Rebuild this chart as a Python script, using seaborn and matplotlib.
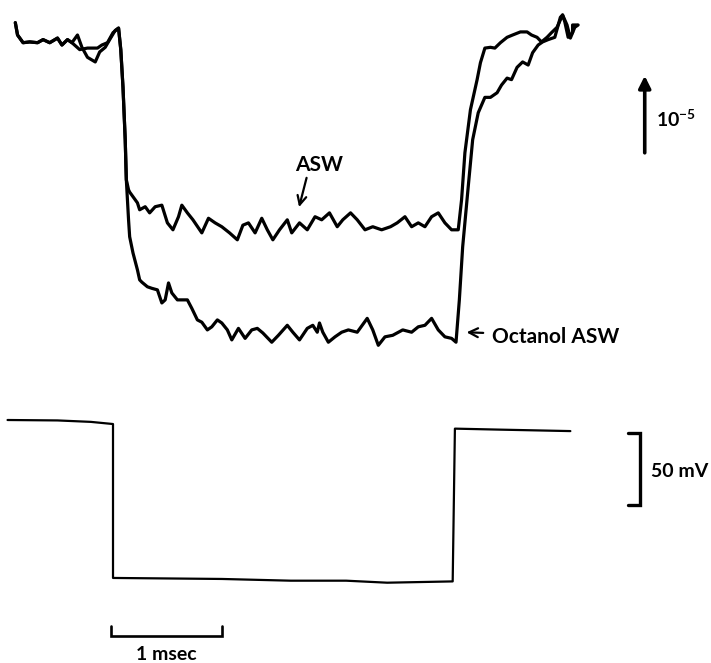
import pandas as pd
import matplotlib
matplotlib.use("Agg")
import matplotlib.pyplot as plt
import seaborn as sns

sns.set_theme(style="white")
plt.rcParams["font.family"] = ["Lato", "DejaVu Sans"]
plt.rcParams["mathtext.fontset"] = "custom"
plt.rcParams["mathtext.rm"] = "Lato:bold"
plt.rcParams["mathtext.default"] = "rm"

# time in msec (pulse onset = 0), signal in units of 10^-5
asw_time = [-0.88, -0.86, -0.81, -0.75, -0.68, -0.63, -0.57, -0.50, -0.46, -0.41,
            -0.37, -0.30, -0.23, -0.14, -0.10, -0.05, 0.00, 0.05, 0.07, 0.09,
            0.11, 0.12, 0.14, 0.15, 0.18, 0.22, 0.24, 0.29, 0.33, 0.38,
            0.44, 0.49, 0.54, 0.59, 0.62, 0.67, 0.72, 0.80, 0.86, 0.92,
            0.98, 1.05, 1.12, 1.17, 1.22, 1.28, 1.34, 1.39, 1.44, 1.50,
            1.57, 1.61, 1.68, 1.75, 1.82, 1.88, 1.95, 2.02, 2.07, 2.14,
            2.20, 2.27, 2.34, 2.42, 2.50, 2.56, 2.63, 2.69, 2.75, 2.81,
            2.87, 2.93, 2.99, 3.05, 3.11, 3.14, 3.17, 3.22, 3.28, 3.31,
            3.35, 3.40, 3.44, 3.49, 3.55, 3.60, 3.67, 3.73, 3.77, 3.82,
            3.86, 3.91, 3.95, 4.00, 4.05, 4.07, 4.10, 4.14, 4.14, 4.18]
asw_signal = [0.16, 0.00, -0.10, -0.09, -0.10, -0.06, -0.10, -0.04, -0.13, -0.06,
              -0.10, -0.19, -0.17, -0.17, -0.13, -0.10, 0.03, 0.09, -0.19, -0.68,
              -1.36, -1.88, -2.01, -2.04, -2.10, -2.18, -2.27, -2.23, -2.31, -2.23,
              -2.21, -2.44, -2.53, -2.36, -2.21, -2.31, -2.40, -2.57, -2.38, -2.44,
              -2.49, -2.57, -2.66, -2.47, -2.44, -2.57, -2.38, -2.53, -2.66, -2.53,
              -2.40, -2.57, -2.44, -2.53, -2.36, -2.40, -2.31, -2.49, -2.40, -2.31,
              -2.40, -2.53, -2.49, -2.53, -2.49, -2.44, -2.36, -2.49, -2.44, -2.49,
              -2.36, -2.31, -2.44, -2.53, -2.53, -2.14, -1.53, -0.97, -0.58, -0.36,
              -0.17, -0.16, -0.17, -0.10, -0.03, 0.00, 0.04, 0.04, 0.00, -0.03,
              -0.09, -0.03, 0.03, 0.10, 0.26, 0.17, -0.03, 0.03, 0.13, 0.13]

octanol_time = [-0.88, -0.86, -0.81, -0.75, -0.68, -0.63, -0.57, -0.50, -0.46, -0.41,
                -0.37, -0.32, -0.28, -0.23, -0.16, -0.12, -0.07, -0.03, 0.02, 0.05,
                0.07, 0.09, 0.11, 0.12, 0.13, 0.14, 0.15, 0.18, 0.22, 0.24,
                0.26, 0.31, 0.35, 0.40, 0.44, 0.47, 0.50, 0.53, 0.58, 0.67,
                0.71, 0.76, 0.80, 0.85, 0.89, 0.94, 0.98, 1.03, 1.07, 1.13,
                1.19, 1.25, 1.30, 1.35, 1.43, 1.49, 1.57, 1.62, 1.68, 1.75,
                1.80, 1.84, 1.86, 1.89, 1.94, 2.00, 2.06, 2.12, 2.20, 2.29,
                2.34, 2.39, 2.45, 2.52, 2.61, 2.69, 2.75, 2.81, 2.87, 2.93,
                2.99, 3.05, 3.09, 3.12, 3.15, 3.20, 3.24, 3.29, 3.35, 3.40,
                3.46, 3.50, 3.55, 3.59, 3.64, 3.69, 3.74, 3.78, 3.83, 3.87,
                3.92, 3.98, 4.03, 4.05, 4.09, 4.12, 4.16, 4.19]
octanol_signal = [0.16, 0.00, -0.10, -0.09, -0.10, -0.06, -0.10, -0.04, -0.13, -0.06,
                  -0.10, 0.00, -0.16, -0.29, -0.35, -0.22, -0.16, -0.06, 0.06, 0.09,
                  -0.19, -0.68, -1.36, -1.88, -2.14, -2.40, -2.62, -2.83, -3.05, -3.18,
                  -3.21, -3.27, -3.29, -3.31, -3.48, -3.44, -3.22, -3.35, -3.44, -3.44,
                  -3.55, -3.70, -3.73, -3.83, -3.79, -3.70, -3.74, -3.83, -3.96, -3.81,
                  -3.94, -3.83, -3.81, -3.87, -3.99, -3.90, -3.77, -3.86, -3.96, -3.81,
                  -3.77, -3.86, -3.74, -3.86, -3.99, -3.92, -3.86, -3.83, -3.86, -3.68,
                  -3.83, -4.03, -3.92, -3.90, -3.83, -3.86, -3.79, -3.77, -3.68, -3.83,
                  -3.92, -3.94, -3.99, -3.44, -2.75, -1.97, -1.36, -1.01, -0.81, -0.81,
                  -0.75, -0.65, -0.56, -0.58, -0.42, -0.35, -0.39, -0.23, -0.13, -0.09,
                  -0.06, -0.03, 0.23, 0.26, 0.13, -0.04, 0.10, 0.13]

# membrane potential step, mV relative to holding level
volt_time = [-0.95, -0.50, -0.20, 0.00, 0.00, 0.98, 1.60, 2.10, 2.47, 3.06, 3.08, 3.49, 4.12]
volt_mv = [2.8, 2.5, 1.5, 0.0, -106.9, -107.6, -108.8, -108.8, -110.2, -109.3, -3.2, -3.9, -4.9]

asw = pd.DataFrame({"t": asw_time, "g": asw_signal})
octanol = pd.DataFrame({"t": octanol_time, "g": octanol_signal})
volt = pd.DataFrame({"t": volt_time, "v": volt_mv})

fig = plt.figure(figsize=(7.11, 6.63), dpi=100)
ax_top = fig.add_axes([0, 0.4268, 1, 0.5732])
ax_bot = fig.add_axes([0, 0, 1, 0.4268])

for df in (asw, octanol):
    sns.lineplot(data=df, x="t", y="g", ax=ax_top, color="black", lw=2.3,
                 sort=False, estimator=None)
sns.lineplot(data=volt, x="t", y="v", ax=ax_bot, color="black", lw=1.6,
             sort=False, estimator=None)

for ax in (ax_top, ax_bot):
    ax.set_xlim(-1.018, 5.387)
    ax.set_axis_off()
ax_top.set_ylim(-4.481, 0.4545)
ax_bot.set_ylim(-165.97, 30.56)

txt = dict(color="black", fontweight="bold")
arrow = dict(arrowstyle="->", lw=1.6, color="black", mutation_scale=16)

# labels
ax_top.text(1.86, -1.69, "ASW", fontsize=15, ha="center", va="center", **txt)
ax_top.annotate("", xy=(1.67, -2.27), xytext=(1.75, -1.82), arrowprops=arrow)
ax_top.text(3.41, -3.92, "Octanol ASW", fontsize=15, ha="left", va="center", **txt)
ax_top.annotate("", xy=(3.16, -3.86), xytext=(3.36, -3.87), arrowprops=arrow)

# 10^-5 calibration arrow
ax_top.annotate("", xy=(4.79, -0.53), xytext=(4.79, -1.53),
                arrowprops=dict(arrowstyle="-|>", lw=2.6, color="black",
                                mutation_scale=18, shrinkA=0, shrinkB=0))
ax_top.text(4.89, -1.10, r"10$^{-5}$", fontsize=14, ha="left", va="center", **txt)

# 50 mV bracket
ax_bot.plot([4.64, 4.75, 4.75, 4.64], [-6.25, -6.25, -56.25, -56.25],
            color="black", lw=2.4, solid_joinstyle="miter")
ax_bot.text(4.85, -33.0, "50 mV", fontsize=14, ha="left", va="center", **txt)

# 1 msec bar
ax_bot.plot([-0.02, -0.02, 0.98, 0.98], [-140.3, -147.2, -147.2, -140.3],
            color="black", lw=1.9, solid_joinstyle="miter")
ax_bot.text(0.48, -160.0, "1 msec", fontsize=14, ha="center", va="center", **txt)

fig.savefig("out.png", dpi=100, facecolor="white")
